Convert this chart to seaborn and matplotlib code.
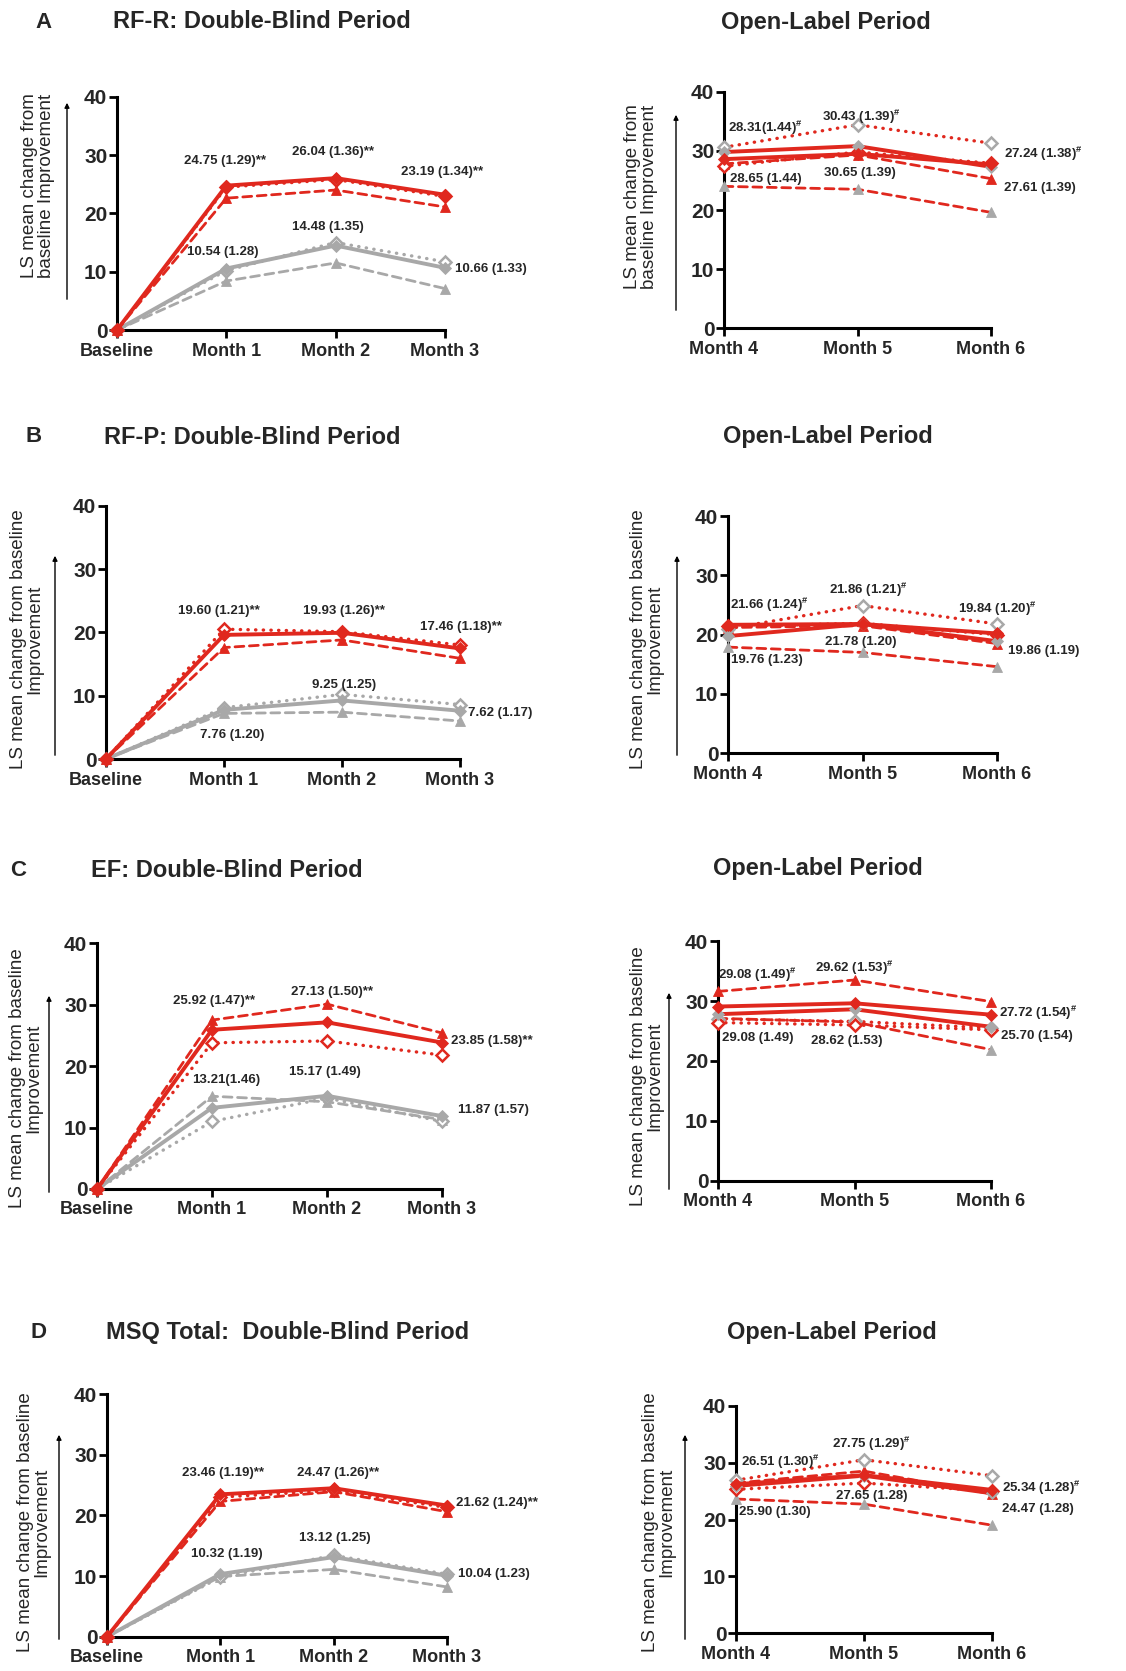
"""
LS mean change from baseline (MSQ domains), double-blind and open-label periods.
Four rows of panels (RF-R, RF-P, EF, MSQ total), values read off the published figure.
"""

import numpy as np
import pandas as pd
import matplotlib
matplotlib.use("Agg")
import matplotlib.pyplot as plt
import seaborn as sns

W, H = 1126, 1671
RED = "#e0281e"
GREY = "#a8a8a8"

DB_VISITS = ["Baseline", "Month 1", "Month 2", "Month 3"]
OL_VISITS = ["Month 4", "Month 5", "Month 6"]
Y_TICKS = [0, 10, 20, 30, 40]

# ---------- A: RF-R ----------
RFR_DB_DRUG = [0, 24.75, 26.04, 23.19]
RFR_DB_DRUG_DASH = [0, 22.6, 24.0, 21.1]
RFR_DB_DRUG_DOT = [0, 24.5, 25.8, 22.9]
RFR_DB_PBO = [0, 10.54, 14.48, 10.66]
RFR_DB_PBO_DASH = [0, 8.4, 11.5, 7.1]
RFR_DB_PBO_DOT = [0, 10.2, 15.0, 11.7]

RFR_OL_DRUG = [28.6, 29.5, 27.7]
RFR_OL_PBO = [29.8, 30.8, 27.3]
RFR_OL_DRUG_DASH = [27.8, 29.3, 25.3]
RFR_OL_PBO_DASH = [24.0, 23.5, 19.6]
RFR_OL_DRUG_DOT = [27.4, 29.8, 27.9]
RFR_OL_PBO_DOT = [30.6, 34.4, 31.3]

RFR_DB_LABELS = ["24.75 (1.29)**", "26.04 (1.36)**", "23.19 (1.34)**",
                 "10.54 (1.28)", "14.48 (1.35)", "10.66 (1.33)"]
RFR_OL_LABELS = ["28.31(1.44)#", "28.65 (1.44)", "30.43 (1.39)#",
                 "30.65 (1.39)", "27.24 (1.38)#", "27.61 (1.39)"]

# ---------- B: RF-P ----------
RFP_DB_DRUG = [0, 19.60, 19.93, 17.46]
RFP_DB_DRUG_DASH = [0, 17.6, 18.8, 15.9]
RFP_DB_DRUG_DOT = [0, 20.5, 20.1, 18.0]
RFP_DB_PBO = [0, 7.76, 9.25, 7.62]
RFP_DB_PBO_DASH = [0, 7.2, 7.4, 6.0]
RFP_DB_PBO_DOT = [0, 8.1, 10.2, 8.6]

RFP_OL_DRUG = [21.66, 21.8, 20.2]
RFP_OL_PBO = [19.76, 21.78, 18.9]
RFP_OL_DRUG_DASH = [21.2, 21.5, 18.5]
RFP_OL_PBO_DASH = [17.9, 17.0, 14.6]
RFP_OL_DRUG_DOT = [21.4, 21.9, 20.0]
RFP_OL_PBO_DOT = [21.0, 24.9, 21.8]

RFP_DB_LABELS = ["19.60 (1.21)**", "19.93 (1.26)**", "17.46 (1.18)**",
                 "7.76 (1.20)", "9.25 (1.25)", "7.62 (1.17)"]
RFP_OL_LABELS = ["21.66 (1.24)#", "19.76 (1.23)", "21.86 (1.21)#",
                 "21.78 (1.20)", "19.84 (1.20)#", "19.86 (1.19)"]

# ---------- C: EF ----------
EF_DB_DRUG = [0, 25.92, 27.13, 23.85]
EF_DB_DRUG_DASH = [0, 27.5, 30.1, 25.4]
EF_DB_DRUG_DOT = [0, 23.8, 24.1, 21.8]
EF_DB_PBO = [0, 13.21, 15.17, 11.87]
EF_DB_PBO_DASH = [0, 15.1, 14.2, 11.3]
EF_DB_PBO_DOT = [0, 11.0, 14.8, 11.0]

EF_OL_DRUG = [29.08, 29.62, 27.72]
EF_OL_PBO = [27.8, 28.62, 25.70]
EF_OL_DRUG_DASH = [31.6, 33.5, 29.9]
EF_OL_PBO_DASH = [27.1, 26.5, 21.9]
EF_OL_DRUG_DOT = [26.4, 26.0, 25.2]
EF_OL_PBO_DOT = [27.0, 26.6, 25.5]

EF_DB_LABELS = ["25.92 (1.47)**", "27.13 (1.50)**", "23.85 (1.58)**",
                "13.21(1.46)", "15.17 (1.49)", "11.87 (1.57)"]
EF_OL_LABELS = ["29.08 (1.49)#", "29.08 (1.49)", "29.62 (1.53)#",
                "28.62 (1.53)", "27.72 (1.54)#", "25.70 (1.54)"]

# ---------- D: MSQ total ----------
MSQ_DB_DRUG = [0, 23.46, 24.47, 21.62]
MSQ_DB_DRUG_DASH = [0, 22.3, 23.9, 20.6]
MSQ_DB_DRUG_DOT = [0, 23.0, 24.1, 21.3]
MSQ_DB_PBO = [0, 10.32, 13.12, 10.04]
MSQ_DB_PBO_DASH = [0, 9.9, 11.1, 8.2]
MSQ_DB_PBO_DOT = [0, 9.8, 13.4, 10.3]

MSQ_OL_DRUG = [26.2, 27.8, 25.2]
MSQ_OL_PBO = [25.9, 27.7, 24.6]
MSQ_OL_DRUG_DASH = [26.4, 28.5, 24.5]
MSQ_OL_PBO_DASH = [23.6, 22.7, 19.0]
MSQ_OL_DRUG_DOT = [25.3, 26.4, 25.0]
MSQ_OL_PBO_DOT = [26.9, 30.5, 27.7]

MSQ_DB_LABELS = ["23.46 (1.19)**", "24.47 (1.26)**", "21.62 (1.24)**",
                 "10.32 (1.19)", "13.12 (1.25)", "10.04 (1.23)"]
MSQ_OL_LABELS = ["26.51 (1.30)#", "25.90 (1.30)", "27.75 (1.29)#",
                 "27.65 (1.28)", "25.34 (1.28)#", "24.47 (1.28)"]

TITLES = ["RF-R: Double-Blind Period", "RF-P: Double-Blind Period",
          "EF: Double-Blind Period", "MSQ Total:  Double-Blind Period"]
LETTERS = ["A", "B", "C", "D"]
OL_TITLE = "Open-Label Period"
YLAB_A = "LS mean change from\nbaseline Improvement"
YLAB = "LS mean change from baseline\nImprovement"

# ---------- layout (pixels from top-left of the figure) ----------
# axes box: x0, x1, y(top=40), y(bottom=0)
AX_BOX = [
    ((117, 445, 96.7, 330.0), (724, 991, 91.7, 328.3)),
    ((106, 460, 505.7, 759.0), (728, 997, 516.0, 753.3)),
    ((97, 442, 943.3, 1189.0), (718, 991, 941.0, 1181.0)),
    ((107, 447, 1394.0, 1636.7), (736, 992, 1405.7, 1633.3)),
]
YLAB_POS = [((38, 186), (641, 197)), ((27, 639), (647, 639)),
            ((26, 1078), (647, 1076)), ((34, 1522), (659, 1522))]
ARROW_POS = [((67, 302, 100), (676, 313, 112)), ((55, 758, 553), (677, 758, 553)),
             ((49, 1195, 993), (669, 1192, 990)), ((59, 1642, 1432), (685, 1642, 1432))]
TITLE_POS = [((43, 22), (262, 22), (826, 22)), ((34, 437), (252, 437), (828, 436)),
             ((18, 870), (227, 870), (818, 869)), ((39, 1332), (288, 1332), (832, 1332))]

# label anchors in data units (x index, y value, ha)
DB_LAB_POS = [
    [(0.99, 29.0, "center"), (1.98, 30.5, "center"), (2.97, 27.1, "center"),
     (0.97, 13.4, "center"), (1.93, 17.7, "center"), (3.09, 10.5, "left")],
    [(0.96, 23.4, "center"), (2.02, 23.4, "center"), (3.01, 20.9, "center"),
     (1.07, 3.8, "center"), (2.02, 11.7, "center"), (3.07, 7.3, "left")],
    [(1.02, 30.6, "center"), (2.04, 32.1, "center"), (3.08, 24.1, "left"),
     (1.12, 17.8, "center"), (1.98, 19.1, "center"), (3.14, 12.8, "left")],
    [(1.02, 27.0, "center"), (2.04, 27.0, "center"), (3.08, 22.1, "left"),
     (1.06, 13.7, "center"), (2.01, 16.2, "center"), (3.10, 10.3, "left")],
]
OL_LAB_POS = [
    [(0.03, 33.9, "left"), (0.045, 25.2, "left"), (1.03, 35.7, "center"),
     (1.02, 26.2, "center"), (2.10, 29.4, "left"), (2.10, 23.7, "left")],
    [(0.015, 25.0, "left"), (0.02, 15.7, "left"), (1.04, 27.5, "center"),
     (0.99, 18.8, "center"), (2.00, 24.4, "center"), (2.08, 17.3, "left")],
    [(0.0, 34.3, "left"), (0.03, 23.8, "left"), (1.0, 35.5, "center"),
     (0.94, 23.4, "center"), (2.06, 28.1, "left"), (2.07, 24.2, "left")],
    [(0.04, 30.2, "left"), (0.02, 21.4, "left"), (1.06, 33.3, "center"),
     (1.06, 24.1, "center"), (2.08, 25.5, "left"), (2.08, 21.8, "left")],
]

DOT = (0, (0.1, 2.2))
DASH = (0, (3.2, 2.0))


def fig_xy(x, y):
    return x / W, 1 - y / H


def fmt_label(s):
    # '#' is set as a superscript; '**' already sits high in the font
    if s.endswith("#"):
        return s[:-1] + r"$^{\#}$"
    return s


def draw_series(ax, visits, values, line_color, ls, marker, mcolor, hollow, lw, z):
    df = pd.DataFrame({"visit": visits, "value": values})
    sns.lineplot(data=df, x="visit", y="value", ax=ax, sort=False, errorbar=None,
                 legend=False, color=line_color, linestyle=ls, linewidth=lw,
                 dash_capstyle="round", marker=marker,
                 markersize=6.5 if marker == "D" else 7.5,
                 markerfacecolor="white" if hollow else mcolor,
                 markeredgecolor=mcolor, markeredgewidth=1.8 if hollow else 0.6,
                 clip_on=False, zorder=z)


def style_axes(ax, visits):
    ax.set_xlim(0, len(visits) - 1)
    ax.set_ylim(0, 40)
    ax.set_yticks(Y_TICKS)
    ax.set_xlabel("")
    ax.set_ylabel("")
    sns.despine(ax=ax)
    for s in ("left", "bottom"):
        ax.spines[s].set_linewidth(2.2)
        ax.spines[s].set_color("black")
    ax.tick_params(axis="both", width=2.0, length=6, direction="out", color="black")
    ax.tick_params(axis="y", labelsize=15, pad=1)
    ax.tick_params(axis="x", labelsize=13, pad=3)
    ax.patch.set_alpha(0)


def add_labels(ax, labels, positions):
    for s, (x, y, ha) in zip(labels, positions):
        ax.text(x, y, fmt_label(s), ha=ha, va="center", fontsize=9.5,
                fontweight="bold", zorder=10)


sns.set_style("ticks")
plt.rcParams["font.family"] = ["Liberation Sans", "DejaVu Sans"]
plt.rcParams["font.weight"] = "bold"
plt.rcParams["mathtext.fontset"] = "custom"
plt.rcParams["mathtext.rm"] = "Liberation Sans:bold"
plt.rcParams["mathtext.bf"] = "Liberation Sans:bold"
plt.rcParams["mathtext.default"] = "bf"

db_sets = [
    (RFR_DB_DRUG, RFR_DB_DRUG_DASH, RFR_DB_DRUG_DOT, RFR_DB_PBO, RFR_DB_PBO_DASH, RFR_DB_PBO_DOT),
    (RFP_DB_DRUG, RFP_DB_DRUG_DASH, RFP_DB_DRUG_DOT, RFP_DB_PBO, RFP_DB_PBO_DASH, RFP_DB_PBO_DOT),
    (EF_DB_DRUG, EF_DB_DRUG_DASH, EF_DB_DRUG_DOT, EF_DB_PBO, EF_DB_PBO_DASH, EF_DB_PBO_DOT),
    (MSQ_DB_DRUG, MSQ_DB_DRUG_DASH, MSQ_DB_DRUG_DOT, MSQ_DB_PBO, MSQ_DB_PBO_DASH, MSQ_DB_PBO_DOT),
]
ol_sets = [
    (RFR_OL_DRUG, RFR_OL_PBO, RFR_OL_DRUG_DASH, RFR_OL_PBO_DASH, RFR_OL_DRUG_DOT, RFR_OL_PBO_DOT),
    (RFP_OL_DRUG, RFP_OL_PBO, RFP_OL_DRUG_DASH, RFP_OL_PBO_DASH, RFP_OL_DRUG_DOT, RFP_OL_PBO_DOT),
    (EF_OL_DRUG, EF_OL_PBO, EF_OL_DRUG_DASH, EF_OL_PBO_DASH, EF_OL_DRUG_DOT, EF_OL_PBO_DOT),
    (MSQ_OL_DRUG, MSQ_OL_PBO, MSQ_OL_DRUG_DASH, MSQ_OL_PBO_DASH, MSQ_OL_DRUG_DOT, MSQ_OL_PBO_DOT),
]
db_labels = [RFR_DB_LABELS, RFP_DB_LABELS, EF_DB_LABELS, MSQ_DB_LABELS]
ol_labels = [RFR_OL_LABELS, RFP_OL_LABELS, EF_OL_LABELS, MSQ_OL_LABELS]

fig = plt.figure(figsize=(W / 100, H / 100), dpi=100)

for row in range(4):
    (l_box, r_box) = AX_BOX[row]
    axes = []
    for (x0, x1, yt, yb) in (l_box, r_box):
        axes.append(fig.add_axes([x0 / W, 1 - yb / H, (x1 - x0) / W, (yb - yt) / H]))
    ax_db, ax_ol = axes

    # double-blind: grey (placebo) under red (drug); solid on top
    drug, drug_dash, drug_dot, pbo, pbo_dash, pbo_dot = db_sets[row]
    draw_series(ax_db, DB_VISITS, pbo_dash, GREY, DASH, "^", GREY, False, 2.0, 3)
    draw_series(ax_db, DB_VISITS, pbo_dot, GREY, DOT, "D", GREY, True, 2.4, 3)
    draw_series(ax_db, DB_VISITS, pbo, GREY, "-", "D", GREY, False, 2.8, 4)
    draw_series(ax_db, DB_VISITS, drug_dash, RED, DASH, "^", RED, False, 2.0, 5)
    draw_series(ax_db, DB_VISITS, drug_dot, RED, DOT, "D", RED, True, 2.4, 5)
    draw_series(ax_db, DB_VISITS, drug, RED, "-", "D", RED, False, 2.8, 6)
    style_axes(ax_db, DB_VISITS)
    add_labels(ax_db, db_labels[row], DB_LAB_POS[row])

    # open-label: all on drug, marker colour shows original arm
    o_drug, o_pbo, o_drug_dash, o_pbo_dash, o_drug_dot, o_pbo_dot = ol_sets[row]
    draw_series(ax_ol, OL_VISITS, o_pbo_dash, RED, DASH, "^", GREY, False, 2.0, 3)
    draw_series(ax_ol, OL_VISITS, o_drug_dash, RED, DASH, "^", RED, False, 2.0, 3)
    draw_series(ax_ol, OL_VISITS, o_pbo_dot, RED, DOT, "D", GREY, True, 2.4, 4)
    draw_series(ax_ol, OL_VISITS, o_drug_dot, RED, DOT, "D", RED, True, 2.4, 4)
    draw_series(ax_ol, OL_VISITS, o_pbo, RED, "-", "D", GREY, False, 2.8, 5)
    draw_series(ax_ol, OL_VISITS, o_drug, RED, "-", "D", RED, False, 2.8, 6)
    style_axes(ax_ol, OL_VISITS)
    add_labels(ax_ol, ol_labels[row], OL_LAB_POS[row])

    # titles
    (lx, ly), (tx, ty), (ox, oy) = TITLE_POS[row]
    fig.text(*fig_xy(lx, ly), LETTERS[row], ha="center", va="center", fontsize=16)
    fig.text(*fig_xy(tx, ty), TITLES[row], ha="center", va="center", fontsize=17)
    fig.text(*fig_xy(ox, oy), OL_TITLE, ha="center", va="center", fontsize=17)

    # y labels with the "improvement" arrow
    ylab = YLAB_A if row == 0 else YLAB
    for (cx, cy), (axx, yb, yt) in zip(YLAB_POS[row], ARROW_POS[row]):
        fig.text(*fig_xy(cx, cy), ylab, rotation=90, ha="center", va="center",
                 fontsize=13.5, fontweight="normal", linespacing=0.95)
        fig.add_artist(matplotlib.patches.FancyArrowPatch(
            fig_xy(axx, yb), fig_xy(axx, yt), transform=fig.transFigure,
            arrowstyle="-|>", mutation_scale=7, lw=1.0, color="black"))

fig.savefig("out.png", dpi=100)
